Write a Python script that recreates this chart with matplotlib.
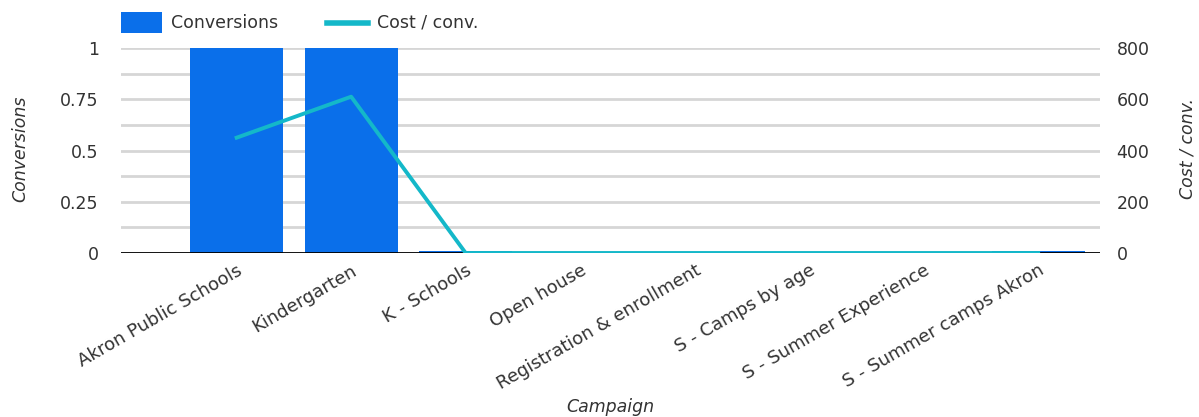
import matplotlib
matplotlib.use("Agg")
import matplotlib.pyplot as plt
import numpy as np
from matplotlib.patches import Rectangle
from matplotlib.lines import Line2D

plt.rcParams['font.family'] = ['DejaVu Sans']

campaigns = ["Akron Public Schools", "Kindergarten", "K - Schools", "Open house",
             "Registration & enrollment", "S - Camps by age", "S - Summer Experience",
             "S - Summer camps Akron"]
conversions = [1.0, 1.0, 0.01, 0.0, 0.0, 0.0, 0.0, 0.01]
cost_per_conv = [450, 610, 0, 0, 0, 0, 0, 0]

conv_ticks = [0, 0.25, 0.5, 0.75, 1]
conv_ticklabels = ["0", "0.25", "0.5", "0.75", "1"]
cost_ticks = [0, 200, 400, 600, 800]

bar_color = "#0a6fea"
line_color = "#14b8c9"
text_color = "#333333"
grid_color = "#d6d6d6"
fs = 12.5

W, H = 1199, 417
fig = plt.figure(figsize=(W / 100, H / 100), dpi=100)
ax = fig.add_axes([121 / W, 1 - 253 / H, (1100 - 121) / W, (253 - 48) / H])
ax2 = ax.twinx()

x = np.arange(len(campaigns))
ax.bar(x, conversions, width=0.81, color=bar_color, zorder=2)
ax.set_ylim(0, 1)
ax.set_xlim(-1.01, 7.54)

for yv in np.arange(0.125, 1.001, 0.125):
    ax.axhline(yv, color=grid_color, lw=2.0, zorder=0)
ax.axhline(0, color="black", lw=1.3, zorder=4)

ax2.plot(x, cost_per_conv, color=line_color, lw=2.8, zorder=3)
ax2.set_ylim(0, 800)

for a in (ax, ax2):
    for s in a.spines.values():
        s.set_visible(False)
    a.tick_params(length=0, colors=text_color, labelsize=fs)

ax.set_yticks(conv_ticks)
ax.set_yticklabels(conv_ticklabels)
ax.tick_params(axis='y', pad=16)
ax2.set_yticks(cost_ticks)
ax2.tick_params(axis='y', pad=12)

ax.set_xticks(x)
ax.set_xticklabels(campaigns, rotation=30, ha='right', rotation_mode='anchor',
                   fontsize=13, color=text_color)
ax.tick_params(axis='x', pad=6)

ax.set_ylabel("Conversions", fontstyle='italic', fontsize=fs, color=text_color,
              va='center')
ax.yaxis.set_label_coords((20 - 121) / 979, 0.51)
ax2.set_ylabel("Cost / conv.", fontstyle='italic', fontsize=fs, color=text_color,
               rotation=90, va='center')
ax2.yaxis.set_label_coords((1188 - 121) / 979, 0.51)
ax.set_xlabel("Campaign", fontstyle='italic', fontsize=fs, color=text_color, va='center')
ax.xaxis.set_label_coords(0.5, (253 - 407) / 205)

ax.set_zorder(ax2.get_zorder() - 1)
ax.patch.set_visible(True)
ax2.patch.set_visible(False)

# legend drawn in figure pixel coordinates
def fx(px):
    return px / W

def fy(py):
    return 1 - py / H

fig.patches.append(Rectangle((fx(121), fy(33)), fx(162) - fx(121), fy(12) - fy(33),
                             transform=fig.transFigure, facecolor=bar_color,
                             edgecolor='none'))
fig.text(fx(171), fy(22.5), "Conversions", fontsize=fs, color=text_color, va='center')
fig.lines.append(Line2D([fx(327), fx(368)], [fy(22.5), fy(22.5)], transform=fig.transFigure,
                        color=line_color, lw=4))
fig.text(fx(377), fy(22.5), "Cost / conv.", fontsize=fs, color=text_color, va='center')

fig.savefig("out.png", dpi=100)
